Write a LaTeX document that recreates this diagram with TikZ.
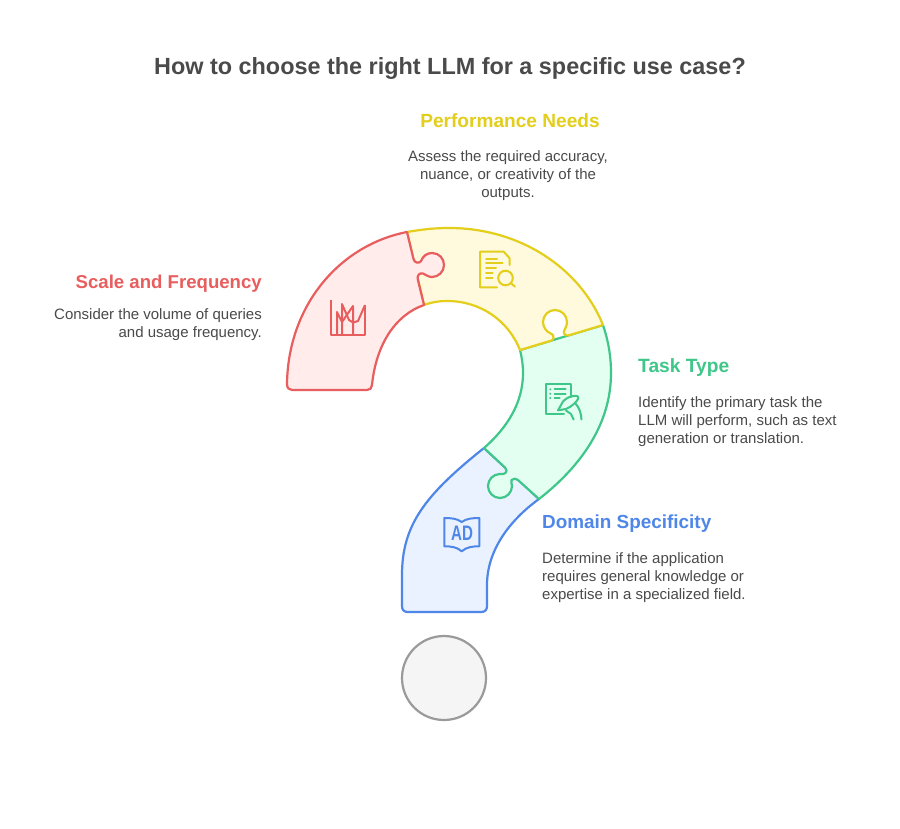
\documentclass[tikz,border=0pt]{standalone}
\usepackage{fontspec}
\setmainfont{Liberation Sans}
\definecolor{redS}{HTML}{E85D5D}
\definecolor{redF}{HTML}{FFECEB}
\definecolor{yelS}{HTML}{E2CE1B}
\definecolor{yelF}{HTML}{FFFADD}
\definecolor{grnS}{HTML}{3FC689}
\definecolor{grnF}{HTML}{E2FFF1}
\definecolor{bluS}{HTML}{4F87E8}
\definecolor{bluF}{HTML}{EBF2FF}
\definecolor{gryS}{HTML}{9A9A9A}
\definecolor{gryF}{HTML}{F5F5F5}
\definecolor{txt}{HTML}{4A4A4A}
\tikzset{
 piece/.style={line width=2.2pt,line join=round},
 icon/.style={line width=2pt,line join=round,line cap=round},
 ttl/.style={font=\bfseries\fontsize{23.4}{28}\selectfont,text=txt,inner sep=0pt},
 head/.style={font=\bfseries\fontsize{18.8}{24}\selectfont,inner sep=0pt},
 bodyL/.style={font=\fontsize{15}{18}\selectfont,text=txt,inner sep=0pt,align=left,anchor=north west},
 bodyR/.style={font=\fontsize{15}{18}\selectfont,text=txt,inner sep=0pt,align=right,anchor=north east},
 bodyC/.style={font=\fontsize{15}{18}\selectfont,text=txt,inner sep=0pt,align=center,anchor=north},
}
\begin{document}
\begin{tikzpicture}[x=1pt,y=-1pt]
\useasboundingbox (0,0) rectangle (900,828);
\fill[white] (0,0) rectangle (900,828);
% blue
\draw[piece,draw=bluS,fill=bluF] (484,448) .. controls (425,495) and (402,525) .. (402,575) -- (402,606) .. controls (402,610) and (404,612) .. (408,612) -- (481,612) .. controls (485,612) and (487,610) .. (487,606) -- (487,585) .. controls (487,550) and (510,520) .. (539,499) -- cycle;
% green
\draw[piece,draw=grnS,fill=grnF] (520,350) -- (603,325) .. controls (608,340) and (611,355) .. (611,373) .. controls (611,425) and (580,467) .. (539,499) -- (518.5,480.5) .. controls (516,478.5) and (513,478) .. (511.5,480) .. controls (510.5,481.5) and (512,483) .. (512,486) .. controls (512,492.6) and (506.6,498) .. (500,498) .. controls (493.4,498) and (488,492.6) .. (488,486) .. controls (488,479.4) and (493.4,474) .. (500,474) .. controls (502,474) and (504,474.5) .. (505.5,473) .. controls (507,471.5) and (507,469.5) .. (505,467.5) -- (484,448) .. controls (508,427) and (523,402) .. (523,373) .. controls (523,365) and (522,358) .. (520,350) -- cycle;
% yellow
\draw[piece,draw=yelS,fill=yelF] (407,232) .. controls (425,229) and (435,228) .. (449,228) .. controls (520,228) and (580,268) .. (603,325) -- (569,335.3) .. controls (566,336.2) and (563,334) .. (564,331) .. controls (565,328.5) and (567,326) .. (567,322) .. controls (567,315.4) and (561.6,310) .. (555,310) .. controls (548.4,310) and (543,315.4) .. (543,322) .. controls (543,327.5) and (547,332) .. (550,333) .. controls (553,334) and (554,336) .. (553.5,338) .. controls (553,340) and (552,340.5) .. (551,340.7) -- (520,350) .. controls (508,320) and (480,301) .. (447,301) .. controls (440,301) and (432,302) .. (424,305) -- cycle;
% red
\draw[piece,draw=redS,fill=redF] (287,384) .. controls (288,305) and (340,245) .. (407,232) -- (413.5,259) .. controls (414.5,263) and (419,264) .. (421,261) .. controls (423,256) and (427,253) .. (432,253) .. controls (439,253) and (444,258.4) .. (444,265) .. controls (444,271.6) and (438.6,277) .. (432,277) .. controls (428,277) and (426,274.5) .. (423,273.5) .. controls (420,272.5) and (417,275) .. (417.7,279) -- (424,305) .. controls (395,315) and (376,345) .. (372,385) .. controls (372,388) and (370,390) .. (367,390) -- (292,390) .. controls (289,390) and (287,388) .. (287,384) -- cycle;
% circle
\node[circle,draw=gryS,fill=gryF,line width=2.2pt,minimum size=84pt,inner sep=0pt] (dot) at (444,678) {};
% red icon
\draw[icon,redS,line cap=butt] (331,300) -- (331,335) -- (365,335) -- (365,305);
\draw[icon,redS,line cap=butt] (337,335) -- (337,312) -- (342,322);
\draw[icon,redS,line cap=butt] (342,335) -- (342,304) -- (349,320) -- (353,322.5) -- (358,321) -- (365,305);
\draw[icon,redS,line cap=butt] (353,335) -- (353,306) -- (342,322);
% yellow icon
\draw[icon,yelS] (497,287.3) -- (480,287.3) -- (480,251.7) -- (503.7,251.7) -- (509.7,258.3) -- (509.7,265);
\draw[icon,yelS] (486,259.3) -- (497,259.3) (486,263.3) -- (502.7,263.3) (486,268.3) -- (496,268.3) (486,273) -- (492.7,273) (486,277.7) -- (492.7,277.7);
\draw[icon,yelS] (505.5,278) circle[radius=7.3];
\draw[icon,yelS] (510.8,283) -- (515,286.7);
% green icon
\draw[icon,grnS] (571.3,397) -- (571.3,384) -- (546.3,384) -- (546.3,413.5) -- (564,413.5);
\draw[icon,grnS] (554.7,389.3) -- (565.7,389.3) (554.7,393.7) -- (565.7,393.7) (554.7,398) -- (559.7,398);
\fill[grnS] (550.3,389.3) circle[radius=1.1] (550.3,393.7) circle[radius=1.1] (550.3,398) circle[radius=1.1];
\draw[icon,grnS] (558,410.3) -- (563,401.5) .. controls (566,398) and (571,396) .. (574,396) .. controls (577,395.5) and (579,396.5) .. (578.5,398) .. controls (577,402) and (571,407) .. (566,409) -- cycle;
\draw[icon,grnS] (566,410.5) -- (571,414) -- (573.7,419.5);
\draw[icon,grnS] (575.5,403.5) .. controls (579.5,408) and (581,413) .. (581.5,419.5);
% blue icon
\draw[icon,bluS] (461.7,522) .. controls (457,518.5) and (451,518) .. (444.3,518) -- (444.3,546.3) .. controls (451,546.3) and (457,547) .. (461.7,551.3) .. controls (466.4,547) and (472.6,546.3) .. (479.3,546.3) -- (479.3,518) .. controls (472.6,518) and (466.4,518.5) .. (461.7,522);
\node[font=\bfseries\fontsize{21}{21}\selectfont,text=bluS,inner sep=0pt,xscale=.72] (adlbl) at (462,533) {AD};
% texts
\node[ttl] (title) at (450,68) {How to choose the right LLM for a specific use case?};
\node[head,text=yelS,font=\bfseries\fontsize{19.1}{24}\selectfont] (perf) at (510,120.5) {Performance Needs};
\node[bodyC] (perfb) at (508,150) {Assess the required accuracy,\\nuance, or creativity of the\\outputs.};
\node[head,text=redS,anchor=east,font=\bfseries\fontsize{18.6}{24}\selectfont] (scale) at (262,284) {Scale and Frequency};
\node[bodyR] (scaleb) at (262,308) {Consider the volume of queries\\and usage frequency.};
\node[head,text=grnS,anchor=west,font=\bfseries\fontsize{19.2}{24}\selectfont] (task) at (638,368) {Task Type};
\node[bodyL] (taskb) at (638,396) {Identify the primary task the\\LLM will perform, such as text\\generation or translation.};
\node[head,text=bluS,anchor=west,font=\bfseries\fontsize{18.9}{24}\selectfont] (dom) at (542,524) {Domain Specificity};
\node[bodyL] (domb) at (542,552) {Determine if the application\\requires general knowledge or\\expertise in a specialized field.};
\end{tikzpicture}
\end{document}
